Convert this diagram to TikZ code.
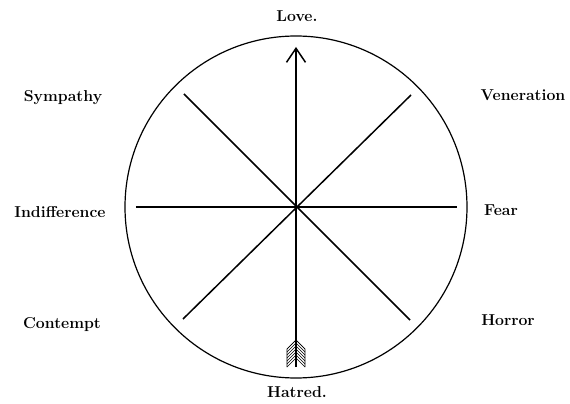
\documentclass[tikz,border=0pt]{standalone}
\usepackage{tikz}
\usetikzlibrary{arrows.meta}

\tikzset{
  lbl/.style={font=\fontsize{15.8}{18}\selectfont\bfseries},
  spoke/.style={line width=1.5pt},
}

\begin{document}
\begin{tikzpicture}[x=1pt,y=1pt]
  \useasboundingbox (-296,-197) rectangle (274,207);
  \coordinate (c) at (0,0);
  \draw[line width=1.2pt] (c) circle (171);
  % ends of the spokes
  \coordinate (n) at (0,160);
  \coordinate (s) at (0,-160);
  \coordinate (e) at (161,0);
  \coordinate (w) at (-160,0);
  \coordinate (ne) at (115,112);
  \coordinate (sw) at (-113,-112);
  \coordinate (nw) at (-112,113);
  \coordinate (se) at (114,-113);
  \draw[spoke] (w) -- (e);
  \draw[spoke] (nw) -- (se);
  \draw[spoke] (sw) -- (ne);
  \draw[spoke,-{Straight Barb[length=14pt,width=19pt]}] (s) -- (n);
  % feathers
  \foreach \y in {-133,-136,...,-151}
    \draw[line width=0.5pt] (-9,\y-9) -- (0,\y) -- (9,\y-9);
  \draw[line width=0.7pt] (-9,-160) -- (-9,-142) -- (0,-133) -- (9,-142) -- (9,-160);
  \node[lbl] (love) at (1,191) {Love.};
  \node[lbl] (hatred) at (1,-185) {Hatred.};
  \node[lbl] (sympathy) at (-233,109) {Sympathy};
  \node[lbl] (veneration) at (227,112) {Veneration};
  \node[lbl] (indifference) at (-236,-5) {Indifference};
  \node[lbl] (fear) at (205,-3) {Fear};
  \node[lbl] (contempt) at (-234,-118) {Contempt};
  \node[lbl] (horror) at (212,-113) {Horror};
\end{tikzpicture}
\end{document}
